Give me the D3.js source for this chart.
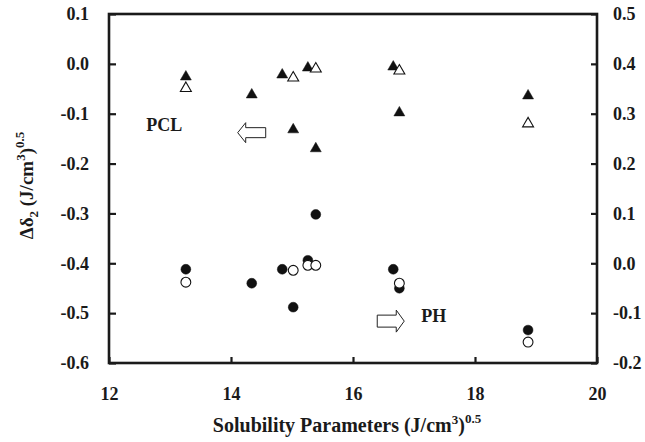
<!DOCTYPE html>
<html>
<head>
<meta charset="utf-8">
<script src="https://cdn.jsdelivr.net/npm/d3@7"></script>
<style>
  body { margin: 0; background: #fff; }
  text { font-family: "Liberation Serif", "Times New Roman", serif; font-weight: bold; fill: #1a1a1a; }
</style>
</head>
<body>
<div id="viz"></div>
<script>
// PCL (triangles, left axis)
var pclFilledX = [13.26, 14.34, 14.84, 15.02, 15.26, 15.39, 16.66, 16.76, 18.87];
var pclFilledY = [-0.026, -0.062, -0.022, -0.132, -0.008, -0.170, -0.006, -0.098, -0.064];
var pclOpenX = [13.26, 15.02, 15.39, 16.76, 18.87];
var pclOpenY = [-0.049, -0.028, -0.010, -0.014, -0.120];

// PH (circles, right axis)
var phFilledX = [13.26, 14.34, 14.84, 15.02, 15.26, 15.39, 16.66, 16.76, 18.87];
var phFilledY = [-0.012, -0.040, -0.012, -0.088, 0.006, 0.098, -0.012, -0.050, -0.134];
var phOpenX = [13.26, 15.02, 15.26, 15.39, 16.76, 18.87];
var phOpenY = [-0.038, -0.014, -0.004, -0.004, -0.040, -0.158];

var xTicks = [12, 14, 16, 18, 20];
var leftTicks = [0.1, 0.0, -0.1, -0.2, -0.3, -0.4, -0.5, -0.6];
var rightTicks = [0.5, 0.4, 0.3, 0.2, 0.1, 0.0, -0.1, -0.2];

var margin = {top: 14, right: 48, bottom: 79, left: 109},
    width = 645 - margin.left - margin.right,
    height = 442 - margin.top - margin.bottom;

var x = d3.scaleLinear().domain([12, 20]).range([0, width]);
var yL = d3.scaleLinear().domain([-0.6, 0.1]).range([height, 0]);
var yR = d3.scaleLinear().domain([-0.2, 0.5]).range([height, 0]);

var fmt = function(d) { return d3.format(".1f")(d).replace("\u2212", "-"); };

var svg = d3.select("#viz").append("svg")
    .attr("width", 645)
    .attr("height", 442);

var g = svg.append("g")
    .attr("transform", "translate(" + margin.left + "," + margin.top + ")");

function styleAxis(sel) {
  sel.select(".domain").remove();
  sel.selectAll(".tick line").attr("stroke", "#1a1a1a").attr("stroke-width", 2.2);
  sel.selectAll(".tick text").style("font-size", "18px").attr("fill", "#1a1a1a");
}

g.append("g")
    .call(d3.axisLeft(yL).tickValues(leftTicks).tickFormat(fmt).tickSize(-7).tickPadding(20))
    .call(styleAxis);

g.append("g")
    .attr("transform", "translate(" + width + ",0)")
    .call(d3.axisRight(yR).tickValues(rightTicks).tickFormat(fmt).tickSize(-6).tickPadding(16))
    .call(styleAxis);

g.append("g")
    .attr("transform", "translate(0," + height + ")")
    .call(d3.axisBottom(x).tickValues(xTicks).tickFormat(d3.format("d")).tickSize(-6).tickPadding(24))
    .call(styleAxis);

// frame
g.append("rect")
    .attr("width", width)
    .attr("height", height)
    .attr("fill", "none")
    .attr("stroke", "#1a1a1a")
    .attr("stroke-width", 2.6);

var tri = d3.symbol().type(d3.symbolTriangle).size(52);
var circ = d3.symbol().type(d3.symbolCircle).size(76);

function drawPoints(xs, ys, yScale, shape, filled) {
  g.selectAll(null)
      .data(xs)
      .enter().append("path")
        .attr("d", shape)
        .attr("transform", function(d, i) { return "translate(" + x(d) + "," + yScale(ys[i]) + ")"; })
        .attr("fill", filled ? "#111" : "#fff")
        .attr("stroke", "#111")
        .attr("stroke-width", filled ? 0.5 : 1.1);
}

drawPoints(pclFilledX, pclFilledY, yL, tri, true);
drawPoints(pclOpenX, pclOpenY, yL, tri, false);
drawPoints(phFilledX, phFilledY, yR, circ, true);
drawPoints(phOpenX, phOpenY, yR, circ, false);

// series labels and arrows
g.append("text")
    .attr("x", x(12.61)).attr("y", yL(-0.135))
    .style("font-size", "18px")
    .text("PCL");

g.append("path")
    .attr("transform", "translate(" + x(14.11) + "," + yL(-0.138) + ")")
    .attr("d", "M0,0 L8,-10 L8,-5 L28,-5 L28,5 L8,5 L8,10 Z")
    .attr("fill", "#fff")
    .attr("stroke", "#222")
    .attr("stroke-width", 1);

g.append("path")
    .attr("transform", "translate(" + x(16.84) + "," + yL(-0.516) + ")")
    .attr("d", "M0,0 L-8,-11 L-8,-6 L-27,-6 L-27,6 L-8,6 L-8,11 Z")
    .attr("fill", "#fff")
    .attr("stroke", "#222")
    .attr("stroke-width", 1);

g.append("text")
    .attr("x", x(17.12)).attr("y", yL(-0.517))
    .style("font-size", "18px")
    .text("PH");

// axis titles
var xt = svg.append("text")
    .attr("x", margin.left + width / 2 - 6)
    .attr("y", 432)
    .attr("text-anchor", "middle")
    .style("font-size", "20px");
xt.append("tspan").text("Solubility Parameters (J/cm");
xt.append("tspan").attr("dy", -8).style("font-size", "13px").text("3");
xt.append("tspan").attr("dy", 8).text(")");
xt.append("tspan").attr("dy", -9).style("font-size", "13px").text("0.5");

var yt = svg.append("text")
    .attr("transform", "translate(33," + (margin.top + height / 2 - 3) + ") rotate(-90)")
    .attr("text-anchor", "middle")
    .style("font-size", "19px");
yt.append("tspan").text("\u0394\u03b4");
yt.append("tspan").attr("dy", 5).style("font-size", "13px").text("2");
yt.append("tspan").attr("dy", -5).text(" (J/cm");
yt.append("tspan").attr("dy", -8).style("font-size", "13px").text("3");
yt.append("tspan").attr("dy", 8).text(")");
yt.append("tspan").attr("dy", -9).style("font-size", "13px").text("0.5");
</script>
</body>
</html>
